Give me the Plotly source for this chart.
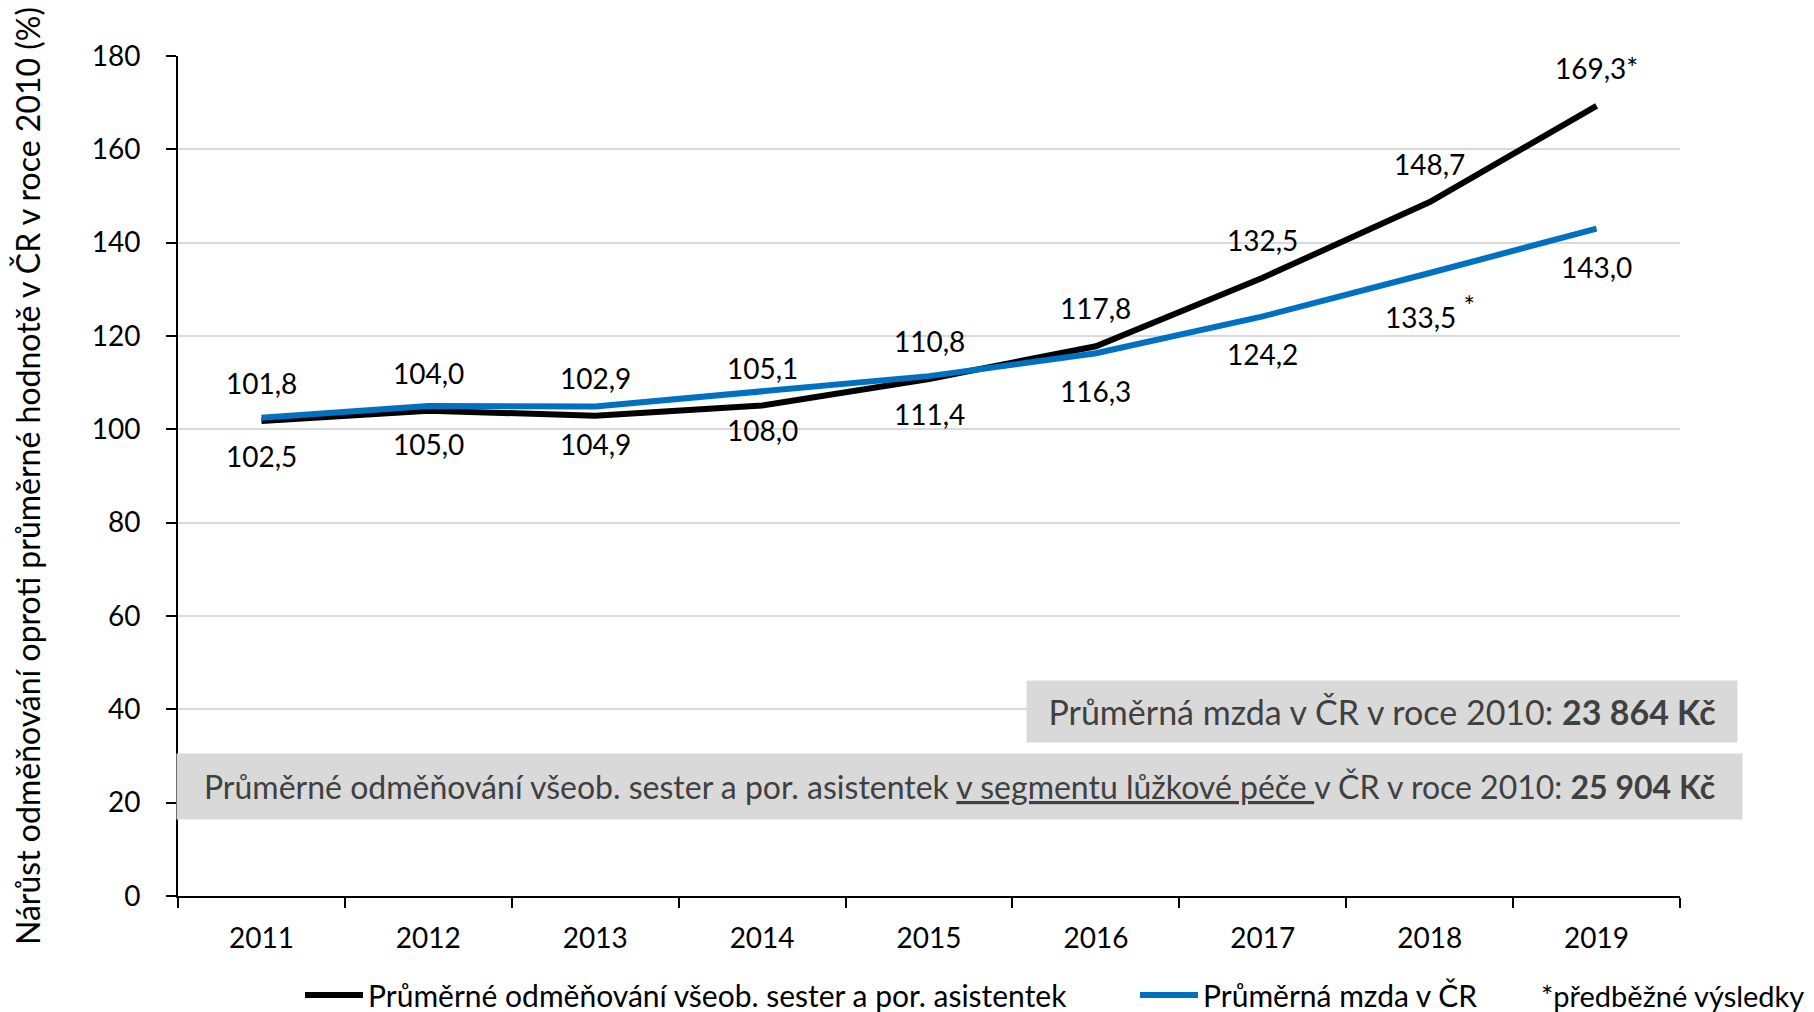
import plotly.graph_objects as go

years = ["2011", "2012", "2013", "2014", "2015", "2016", "2017", "2018", "2019"]
nurses = [101.8, 104.0, 102.9, 105.1, 110.8, 117.8, 132.5, 148.7, 169.3]
average = [102.5, 105.0, 104.9, 108.0, 111.4, 116.3, 124.2, 133.5, 143.0]
nurses_labels = ["101,8", "104,0", "102,9", "105,1", "110,8", "117,8", "132,5", "148,7", "169,3*"]
average_labels = ["102,5", "105,0", "104,9", "108,0", "111,4", "116,3", "124,2",
                  "133,5 <sup><span style='font-size:27px'>*</span></sup>", "143,0"]
y_ticks = [0, 20, 40, 60, 80, 100, 120, 140, 160, 180]

name_nurses = "Průměrné odměňování všeob. sester a por. asistentek"
name_avg = "Průměrná mzda v ČR"

FONT = "Lato"
OFF = 8  # page body margin
W, H = 1814 - OFF, 1012 - OFF
L, R, T, B = 178 - OFF, 134, 56 - OFF, 116
PW, PH = W - L - R, H - T - B


def px(xp):
    return (xp - OFF - L) / PW


def py(yp):
    return (H - B - (yp - OFF)) / PH


fig = go.Figure()
fig.add_trace(go.Scatter(x=years, y=nurses, mode="lines", name=name_nurses,
                         line=dict(color="#000000", width=6), legend="legend"))
fig.add_trace(go.Scatter(x=years, y=average, mode="lines", name=name_avg,
                         line=dict(color="#0070C0", width=6), legend="legend2"))

ann = []
for i, (v, t) in enumerate(zip(nurses, nurses_labels)):
    ann.append(dict(x=i, y=v, text=t, showarrow=False, yshift=38, xref="x", yref="y",
                    font=dict(family=FONT, size=28, color="#000")))
for i, (v, t) in enumerate(zip(average, average_labels)):
    ann.append(dict(x=i, y=v, text=t, showarrow=False, yshift=-38, xref="x", yref="y",
                    font=dict(family=FONT, size=28, color="#000")))

ann.append(dict(xref="paper", yref="paper", x=px(1382), y=py(711.5), xanchor="center", yanchor="middle",
                text="Průměrná mzda v ČR v roce 2010: <b>23 864 Kč</b>", showarrow=False,
                bgcolor="#D9D9D9", width=710, height=61, borderpad=0,
                font=dict(family=FONT, size=34, color="#404040")))
ann.append(dict(xref="paper", yref="paper", x=px(959.5), y=py(786.5), xanchor="center", yanchor="middle",
                text="Průměrné odměňování všeob. sester a por. asistentek <u>v segmentu lůžkové péče </u>v ČR v roce 2010: <b>25 904 Kč</b>",
                showarrow=False, bgcolor="#D9D9D9", width=1565, height=65, borderpad=0,
                font=dict(family=FONT, size=32, color="#404040")))
ann.append(dict(xref="paper", yref="paper", x=px(1539), y=py(995), xanchor="left", yanchor="middle",
                text="*předběžné výsledky", showarrow=False,
                font=dict(family=FONT, size=29, color="#000")))

legend_common = dict(orientation="h", yanchor="middle", xanchor="left",
                     font=dict(family=FONT, size=30, color="#000"), itemwidth=58,
                     bgcolor="rgba(0,0,0,0)", borderwidth=0)

fig.update_layout(
    width=W, height=H,
    margin=dict(l=L, r=R, t=T, b=B, pad=0, autoexpand=False),
    paper_bgcolor="white", plot_bgcolor="white",
    font=dict(family=FONT, size=28, color="#000"),
    showlegend=True,
    legend=dict(x=px(300), y=py(995), **legend_common),
    legend2=dict(x=px(1135), y=py(995), **legend_common),
    annotations=ann,
    xaxis=dict(type="category", range=[-0.5, 8.5], tickson="boundaries", ticks="outside",
               ticklen=10, tickwidth=2, tickcolor="#000", showline=True, linecolor="#000", linewidth=2,
               showgrid=False, ticklabelstandoff=16, automargin=False,
               tickfont=dict(family=FONT, size=28, color="#000")),
    yaxis=dict(range=[0, 180], tickvals=y_ticks, ticks="outside", ticklen=10, tickwidth=2,
               tickcolor="#000", showline=True, linecolor="#000", linewidth=2, showgrid=True,
               gridcolor="#D9D9D9", gridwidth=2, zeroline=False, ticklabelstandoff=20,
               automargin=False, tickfont=dict(family=FONT, size=28, color="#000"),
               title=dict(text="Nárůst odměňování oproti průměrné hodnotě v ČR v roce 2010 (%)",
                          font=dict(family=FONT, size=32, color="#000"), standoff=70)),
)

fig.write_html("out.html")
